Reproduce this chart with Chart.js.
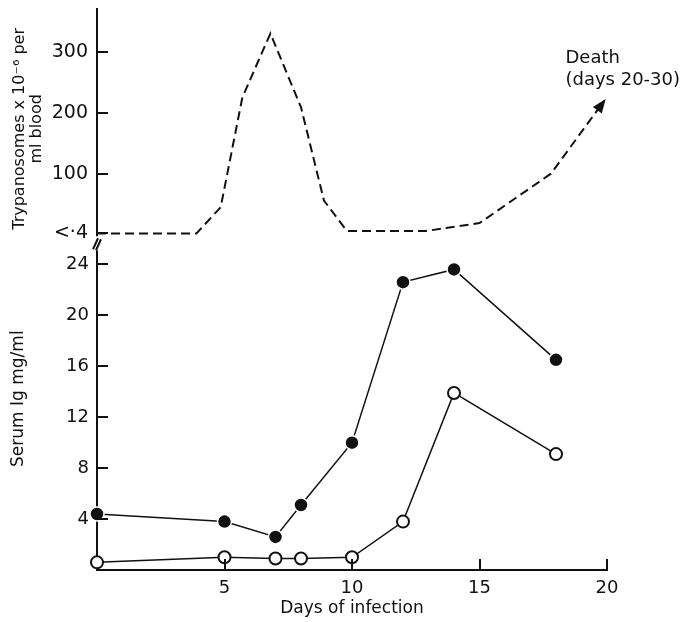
<!DOCTYPE html>
<html>
<head>
<meta charset="utf-8">
<script src="https://cdn.jsdelivr.net/npm/chart.js@4.4.0/dist/chart.umd.min.js"></script>
<style>
  html, body { margin: 0; padding: 0; background: #fff; }
  #wrap { width: 681px; height: 622px; }
</style>
</head>
<body>
<div id="wrap"><canvas id="chart" width="681" height="622"></canvas></div>
<script>
// Trypanosomes (dashed, top panel) and serum Ig (bottom panel) vs days of infection
const parasiteDays = [0, 3.9, 4.85, 5.7, 6.8, 8, 8.9, 9.8, 12.9, 15, 17.8, 19.9];
const parasiteCounts = [3, 3, 46, 226, 331, 210, 57, 7, 7, 20, 101, 221];

const igDays = [0, 5, 7, 8, 10, 12, 14, 18];
const igFilled = [4.4, 3.8, 2.6, 5.1, 10.0, 22.6, 23.6, 16.5];
const igOpen = [0.6, 1.0, 0.9, 0.9, 1.0, 3.8, 13.9, 9.1];

const dayTicks = [5, 10, 15, 20];
const parasiteTicks = [4, 100, 200, 300];
const parasiteTickLabels = ['<·4', '100', '200', '300'];
const igTicks = [4, 8, 12, 16, 20, 24];

const INK = '#111';
const FONT = "'DejaVu Sans', sans-serif";

const toPoints = (xs, ys) => xs.map((x, i) => ({ x, y: ys[i] }));

// fixed axis box sizes, no extra padding for end labels
const fixY = s => { s.width = 97; s.paddingTop = 0; s.paddingBottom = 0; };
const fixX = s => { s.height = 52; s.paddingLeft = 0; s.paddingRight = 0; };

// inward tick marks, axis break, Ig title, arrow head and the "Death" note
const decorations = {
    id: 'decorations',
    afterDraw(chart) {
        const ctx = chart.ctx;
        const area = chart.chartArea;
        const { x, yTop, yBottom } = chart.scales;
        ctx.save();
        ctx.strokeStyle = INK;
        ctx.lineWidth = 2;
        ctx.beginPath();
        [yTop, yBottom].forEach(s => s.ticks.forEach(t => {
            const py = Math.round(s.getPixelForValue(t.value));
            ctx.moveTo(area.left, py);
            ctx.lineTo(area.left + 11, py);
        }));
        x.ticks.forEach(t => {
            const px = Math.round(x.getPixelForValue(t.value));
            ctx.moveTo(px, area.bottom);
            ctx.lineTo(px, area.bottom - 11);
        });
        ctx.stroke();

        // break in the y axis
        const b = yTop.bottom;
        ctx.fillStyle = '#fff';
        ctx.fillRect(area.left - 3, b - 13, 6, 14);
        ctx.lineWidth = 2;
        ctx.beginPath();
        ctx.moveTo(area.left - 4, b);     ctx.lineTo(area.left + 1, b - 11);
        ctx.moveTo(area.left - 1, b + 1); ctx.lineTo(area.left + 4, b - 10);
        ctx.stroke();

        // title of the lower panel, centred a little above the panel middle
        ctx.fillStyle = INK;
        ctx.font = '17px ' + FONT;
        ctx.textAlign = 'center';
        ctx.textBaseline = 'middle';
        ctx.translate(19, (yBottom.top + yBottom.bottom) / 2 - 11);
        ctx.rotate(-Math.PI / 2);
        ctx.fillText('Serum Ig mg/ml', 0, 0);
        ctx.setTransform(1, 0, 0, 1, 0, 0);

        // arrow head at the end of the parasite curve
        const pts = chart.getDatasetMeta(0).data;
        const tip = pts[pts.length - 1], prev = pts[pts.length - 2];
        const ang = Math.atan2(tip.y - prev.y, tip.x - prev.x);
        ctx.translate(tip.x, tip.y);
        ctx.rotate(ang);
        ctx.beginPath();
        ctx.moveTo(2, 0);
        ctx.lineTo(-12, -5.5);
        ctx.lineTo(-12, 5.5);
        ctx.closePath();
        ctx.fill();
        ctx.setTransform(1, 0, 0, 1, 0, 0);

        ctx.font = '18px ' + FONT;
        ctx.textAlign = 'left';
        ctx.fillText('Death', tip.x - 39, tip.y - 42);
        ctx.fillText('(days 20-30)', tip.x - 39, tip.y - 20);
        ctx.restore();
    }
};

new Chart(document.getElementById('chart'), {
    type: 'line',
    data: {
        datasets: [{
            data: toPoints(parasiteDays, parasiteCounts),
            yAxisID: 'yTop',
            borderColor: INK,
            borderWidth: 2,
            borderDash: [9, 5],
            pointRadius: 0,
            tension: 0
        }, {
            data: toPoints(igDays, igFilled),
            yAxisID: 'yBottom',
            clip: false,
            borderColor: INK,
            borderWidth: 1.5,
            pointRadius: 7,
            pointBackgroundColor: INK,
            pointBorderColor: '#fff',
            pointBorderWidth: 1.5,
            tension: 0
        }, {
            data: toPoints(igDays, igOpen),
            yAxisID: 'yBottom',
            clip: false,
            borderColor: INK,
            borderWidth: 1.5,
            pointRadius: 6,
            pointBackgroundColor: '#fff',
            pointBorderColor: INK,
            pointBorderWidth: 2,
            tension: 0
        }]
    },
    options: {
        responsive: false,
        animation: false,
        layout: { padding: { top: 8, right: 74, left: 0, bottom: 0 } },
        plugins: { legend: { display: false }, tooltip: { enabled: false } },
        scales: {
            x: {
                type: 'linear',
                min: 0, max: 20,
                afterBuildTicks: s => { s.ticks = dayTicks.map(v => ({ value: v })); },
                afterFit: fixX,
                grid: { display: false, drawTicks: false },
                border: { display: true, color: INK, width: 2 },
                ticks: { color: INK, font: { family: FONT, size: 18 }, padding: 8 },
                title: {
                    display: true, text: 'Days of infection', color: INK,
                    font: { family: FONT, size: 17 }, padding: { top: 0, bottom: 3 }
                }
            },
            yBottom: {
                type: 'linear',
                position: 'left',
                stack: 'panels',
                stackWeight: 321,
                min: 0, max: 25.18,
                afterBuildTicks: s => { s.ticks = igTicks.map(v => ({ value: v })); },
                afterFit: fixY,
                grid: { display: false, drawTicks: false },
                border: { display: true, color: INK, width: 2 },
                ticks: { color: INK, font: { family: FONT, size: 18 }, padding: 8 }
            },
            yTop: {
                type: 'linear',
                position: 'left',
                stack: 'panels',
                stackWeight: 241,
                min: -23, max: 372,
                afterBuildTicks: s => { s.ticks = parasiteTicks.map(v => ({ value: v })); },
                afterFit: fixY,
                grid: { display: false, drawTicks: false },
                border: { display: true, color: INK, width: 2 },
                ticks: {
                    color: INK, font: { family: FONT, size: 19 }, padding: 9,
                    callback: v => parasiteTickLabels[parasiteTicks.indexOf(v)]
                },
                title: {
                    display: true, text: ['Trypanosomes x 10⁻⁶ per', 'ml blood'], color: INK,
                    font: { family: FONT, size: 16, lineHeight: 1.06 }, padding: { top: 11, bottom: 0 }
                }
            }
        }
    },
    plugins: [decorations]
});
</script>
</body>
</html>
